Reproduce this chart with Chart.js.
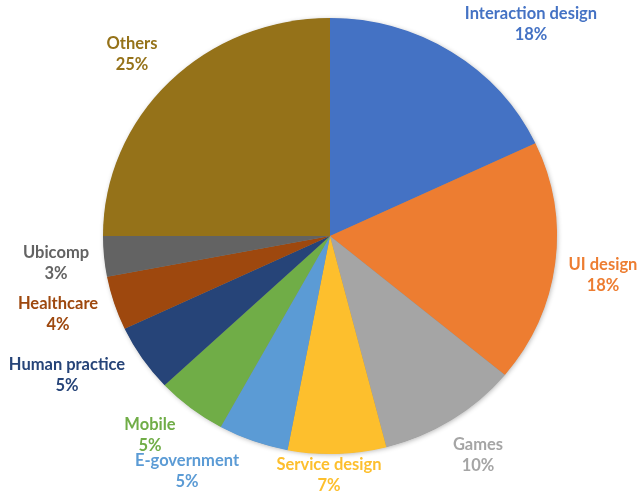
<!DOCTYPE html>
<html>
<head>
<meta charset="utf-8">
<script src="https://cdn.jsdelivr.net/npm/chart.js@4.4.1/dist/chart.umd.min.js"></script>
<style>
  html, body { margin: 0; padding: 0; background: #ffffff; }
  #wrap { width: 638px; height: 493px; }
</style>
</head>
<body>
<div id="wrap"><canvas id="pie" width="638" height="493"></canvas></div>
<script>
// Research topics and their share (%)
const topics = ['Interaction design', 'UI design', 'Games', 'Service design', 'E-government',
                'Mobile', 'Human practice', 'Healthcare', 'Ubicomp', 'Others'];
const shares = [18, 18, 10, 7, 5, 5, 5, 4, 3, 25];
const sliceColors = ['#4472C4', '#ED7D31', '#A5A5A5', '#FDBF2D', '#5B9BD5',
                     '#70AD47', '#264478', '#9E480E', '#636363', '#957219'];

// Where each two-line label is centred (x, y of the block middle)
const labelSpots = [
  [531, 24], [603, 275], [478, 455], [329, 475], [187, 471],
  [150, 435], [67, 375], [58, 314], [56, 263], [132, 54]
];

// the pie is drawn slightly wider than tall
const stretchX = 227 / 218;

const ellipsePie = {
  id: 'ellipsePie',
  beforeDatasetsDraw(chart) {
    const arc = chart.getDatasetMeta(0).data[0];
    if (!arc) return;
    const ctx = chart.ctx;
    ctx.save();
    ctx.translate(arc.x, arc.y);
    ctx.scale(stretchX, 1);
    ctx.translate(-arc.x, -arc.y);
    // soft shadow under the whole pie
    ctx.save();
    ctx.shadowColor = 'rgba(0,0,0,0.30)';
    ctx.shadowBlur = 5;
    ctx.shadowOffsetX = 1;
    ctx.shadowOffsetY = 1;
    ctx.beginPath();
    ctx.arc(arc.x, arc.y, arc.outerRadius - 0.5, 0, Math.PI * 2);
    ctx.fillStyle = '#888888';
    ctx.fill();
    ctx.restore();
  },
  afterDatasetsDraw(chart) {
    chart.ctx.restore();
  }
};

const sliceLabels = {
  id: 'sliceLabels',
  afterDraw(chart) {
    const ctx = chart.ctx;
    ctx.save();
    ctx.font = 'bold 16.5px Lato, "Open Sans", sans-serif';
    ctx.textAlign = 'center';
    ctx.textBaseline = 'middle';
    topics.forEach((name, i) => {
      const [x, y] = labelSpots[i];
      ctx.fillStyle = sliceColors[i];
      ctx.fillText(name, x, y - 10.5);
      ctx.fillText(shares[i] + '%', x, y + 10.5);
    });
    ctx.restore();
  }
};

new Chart(document.getElementById('pie'), {
  type: 'pie',
  data: {
    labels: topics,
    datasets: [{
      data: shares,
      backgroundColor: sliceColors,
      borderWidth: 0,
      hoverOffset: 0
    }]
  },
  options: {
    responsive: false,
    animation: false,
    layout: { padding: { top: 18, bottom: 39, left: 22, right: 0 } },
    plugins: {
      legend: { display: false },
      tooltip: { enabled: false }
    }
  },
  plugins: [ellipsePie, sliceLabels]
});
</script>
</body>
</html>
